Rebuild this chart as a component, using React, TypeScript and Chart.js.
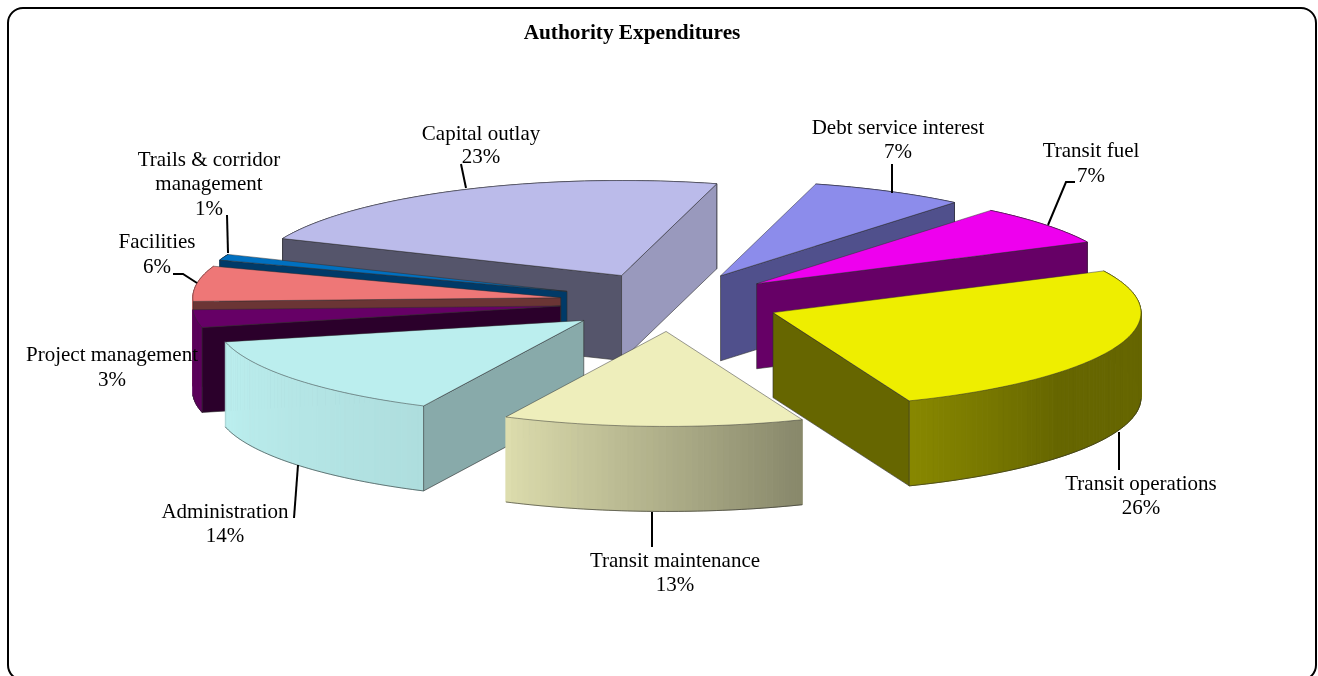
import React, { useEffect, useRef } from "react";
import { Chart, registerables } from "chart.js";

Chart.register(...registerables);

// ---- data (clockwise from the back) ----
const categories = [
  "Debt service interest",
  "Transit fuel",
  "Transit operations",
  "Transit maintenance",
  "Administration",
  "Project management",
  "Facilities",
  "Trails & corridor\nmanagement",
  "Capital outlay",
];
const shares = [6.8, 6.8, 26.2, 13.2, 14.2, 3, 6, 1, 22.8];
const titleText = "Authority Expenditures";

// ---- styles ----
const topColors = ["#8C8CEB", "#EE00EE", "#EEEE00", "#EEEEBB", "#BBEEEE", "#660066", "#EE7777", "#0070C0", "#BBBBEA"];
const startWallColors = ["#50508C", "#660066", "#666600", "#666650", "#88AAAA", "#2B002B", "#6B3535", "#003A68", "#55556B"];
const endWallColors = ["#50508C", "#660066", "#666600", "#666650", "#88AAAA", "#2B002B", "#6B3535", "#003A68", "#9999BD"];

// ---- projection of the flat pie on to the tilted plane ----
const CX = 670;
const CY = 302;
const RX = 368;
const RY = 95;
const DEPTH = 85;
const EXPLODE_X = 0.3;
const EXPLODE_Y = 0.31;
const FONT = '"Liberation Serif", serif';
const LABEL_SIZE = 21;

// label placement: centre x and first line's middle y, then the leader polyline
const labelLayout: { x: number; y: number; lh: number; line: number[][] }[] = [
  { x: 898, y: 128, lh: 24, line: [[892, 164], [892, 193]] },
  { x: 1091, y: 151, lh: 25, line: [[1075, 182], [1066, 182], [1048, 225]] },
  { x: 1141, y: 484, lh: 24, line: [[1119, 432], [1119, 470]] },
  { x: 675, y: 561, lh: 24, line: [[652, 512], [652, 547]] },
  { x: 225, y: 512, lh: 24, line: [[298, 465], [294, 518]] },
  { x: 112, y: 355, lh: 25, line: [] },
  { x: 157, y: 242, lh: 25, line: [[173, 274], [183, 274], [197, 283]] },
  { x: 209, y: 160, lh: 24.5, line: [[227, 215], [228, 253]] },
  { x: 481, y: 134, lh: 23, line: [[461, 164], [466, 188]] },
];

const D = Math.PI / 180;
const norm = (a: number) => ((a % 360) + 360) % 360;

function brightness(deg: number) {
  const t = norm(deg);
  if (t <= 40) return 0.43;
  if (t <= 70) return 0.43 + ((t - 40) / 30) * 0.15;
  if (t <= 115) return 0.58 + ((t - 70) / 45) * 0.34;
  if (t <= 166) return 0.93 + ((t - 115) / 51) * 0.07;
  if (t <= 200) return 0.9;
  return 0.43;
}
function shade(hex: string, f: number) {
  const n = parseInt(hex.slice(1), 16);
  const c = [(n >> 16) & 255, (n >> 8) & 255, n & 255].map((v) => Math.round(v * f));
  return `rgb(${c[0]},${c[1]},${c[2]})`;
}

const piePlugin = {
  id: "tiltedPie",
  beforeDraw(chart: any) {
    const { ctx, width, height } = chart;
    ctx.save();
    ctx.fillStyle = "#fff";
    ctx.fillRect(0, 0, width, height);
    ctx.beginPath();
    ctx.roundRect(8, 8, 1308, 672, 15);
    ctx.lineWidth = 2;
    ctx.strokeStyle = "#000";
    ctx.stroke();
    ctx.restore();
  },
  beforeDatasetsDraw(chart: any) {
    const { ctx } = chart;
    const arcs = chart.getDatasetMeta(0).data;
    const items = arcs.map((arc: any, i: number) => {
      const p = arc.getProps(["startAngle", "endAngle"], true);
      return { i, a0: p.startAngle, a1: p.endAngle, mid: (p.startAngle + p.endAngle) / 2, color: arc.options.backgroundColor };
    });
    items.sort((a: any, b: any) => Math.sin(a.mid) - Math.sin(b.mid));
    const edge = "rgba(45,45,45,0.6)";

    for (const s of items) {
      const ox = EXPLODE_X * Math.cos(s.mid);
      const oy = EXPLODE_Y * Math.sin(s.mid);
      const pt = (ang: number, r: number, dz = 0): [number, number] => [
        CX + RX * (r * Math.cos(ang) + ox),
        CY + RY * (r * Math.sin(ang) + oy) + dz,
      ];
      const steps = Math.max(4, Math.ceil((s.a1 - s.a0) / D));
      const angles: number[] = [];
      for (let k = 0; k <= steps; k++) angles.push(s.a0 + ((s.a1 - s.a0) * k) / steps);

      // outer wall, back to front
      const strips: number[] = [];
      for (let k = 0; k < steps; k++) strips.push(k);
      strips.sort((a, b) => Math.sin(angles[a]) - Math.sin(angles[b]));
      for (const k of strips) {
        const a = angles[k];
        const b = angles[k + 1];
        const col = shade(s.color, brightness((a + b) / 2 / D));
        ctx.beginPath();
        ctx.moveTo(...pt(a, 1));
        ctx.lineTo(...pt(b, 1));
        ctx.lineTo(...pt(b, 1, DEPTH));
        ctx.lineTo(...pt(a, 1, DEPTH));
        ctx.closePath();
        ctx.fillStyle = col;
        ctx.strokeStyle = col;
        ctx.lineWidth = 1;
        ctx.fill();
        ctx.stroke();
      }
      // lower rim: only the part that faces the viewer
      ctx.beginPath();
      let pen = false;
      for (const a of angles) {
        if (Math.sin(a) < 0) {
          pen = false;
          continue;
        }
        if (pen) ctx.lineTo(...pt(a, 1, DEPTH));
        else ctx.moveTo(...pt(a, 1, DEPTH));
        pen = true;
      }
      ctx.strokeStyle = edge;
      ctx.lineWidth = 1;
      ctx.stroke();

      // the two radial walls
      const walls = [
        { ang: s.a0, normal: s.a0 - Math.PI / 2, col: startWallColors[s.i] },
        { ang: s.a1, normal: s.a1 + Math.PI / 2, col: endWallColors[s.i] },
      ];
      for (const w of walls) {
        if (Math.sin(w.normal) <= 0) continue;
        ctx.beginPath();
        ctx.moveTo(...pt(w.ang, 0));
        ctx.lineTo(...pt(w.ang, 1));
        ctx.lineTo(...pt(w.ang, 1, DEPTH));
        ctx.lineTo(...pt(w.ang, 0, DEPTH));
        ctx.closePath();
        ctx.fillStyle = w.col;
        ctx.fill();
        ctx.strokeStyle = edge;
        ctx.lineWidth = 1;
        ctx.stroke();
      }

      // top face
      ctx.beginPath();
      ctx.moveTo(...pt(0, 0));
      angles.forEach((a) => ctx.lineTo(...pt(a, 1)));
      ctx.closePath();
      ctx.fillStyle = s.color;
      ctx.fill();
      ctx.strokeStyle = edge;
      ctx.lineWidth = 0.8;
      ctx.stroke();
    }
    return false;
  },
  afterDraw(chart: any) {
    const { ctx } = chart;
    const total = shares.reduce((a, b) => a + b, 0);
    ctx.save();
    ctx.fillStyle = "#000";
    ctx.strokeStyle = "#000";
    ctx.lineWidth = 2;
    ctx.font = `${LABEL_SIZE}px ${FONT}`;
    ctx.textAlign = "center";
    ctx.textBaseline = "middle";
    categories.forEach((name, i) => {
      const l = labelLayout[i];
      const lines = [...name.split("\n"), `${Math.round((shares[i] / total) * 100)}%`];
      lines.forEach((t, k) => ctx.fillText(t, l.x, l.y + k * l.lh));
      if (l.line.length) {
        ctx.beginPath();
        l.line.forEach(([x, y], k) => (k ? ctx.lineTo(x, y) : ctx.moveTo(x, y)));
        ctx.stroke();
      }
    });
    ctx.restore();
  },
};

export default function App() {
  const ref = useRef<HTMLCanvasElement>(null);
  useEffect(() => {
    if (!ref.current) return;
    const chart = new Chart(ref.current, {
      type: "pie",
      data: {
        labels: categories,
        datasets: [{ data: shares, backgroundColor: topColors, borderWidth: 0 }],
      },
      options: {
        responsive: false,
        animation: false,
        rotation: 15,
        layout: { padding: { right: 54 } },
        plugins: {
          legend: { display: false },
          tooltip: { enabled: false },
          title: {
            display: true,
            text: titleText,
            color: "#000",
            font: { family: FONT, size: 21.3, weight: "bold" },
            padding: { top: 21, bottom: 10 },
          },
        },
      },
      plugins: [piePlugin],
    } as any);
    return () => chart.destroy();
  }, []);
  return (
    <div style={{ position: "fixed", left: 0, top: 0, width: 1318, height: 676, overflow: "hidden", background: "#fff" }}>
      <canvas ref={ref} width={1318} height={676} style={{ display: "block" }} />
    </div>
  );
}
